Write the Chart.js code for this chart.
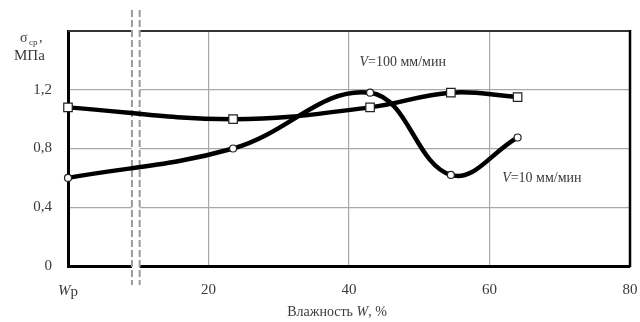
<!DOCTYPE html>
<html><head><meta charset="utf-8">
<script src="https://cdn.jsdelivr.net/npm/chart.js@4/dist/chart.umd.min.js"></script>
<style>html,body{margin:0;padding:0;background:#fff}#wrap{width:640px;height:322px}</style>
</head><body><div id="wrap"><canvas id="c" width="640" height="322"></canvas></div>
<script>
const moisture = [0, 23.5, 43, 54.5, 64];
const v100 = [1.08, 1.0, 1.08, 1.18, 1.15];
const v10 = [0.6, 0.8, 1.18, 0.62, 0.875];
const xTicks = [0, 20, 40, 60, 80];
const yTicks = [0, 0.4, 0.8, 1.2];
const breakAt = [9.1, 10.2];
const labelV100 = {x: 41.5, y: 1.39, text: ['V', '=100 мм/мин']};
const labelV10 = {x: 61.8, y: 0.6, text: ['V', '=10 мм/мин']};

const FONT = '"Liberation Serif", "DejaVu Serif", serif';
const TXT = '#3a3a3a';

function drawLabel(ctx, x, y, parts, size) {
  ctx.textBaseline = 'middle';
  ctx.textAlign = 'left';
  ctx.font = 'italic ' + size + 'px ' + FONT;
  ctx.fillText(parts[0], x, y);
  const w = ctx.measureText(parts[0]).width;
  ctx.font = size + 'px ' + FONT;
  ctx.fillText(parts[1], x + w, y);
}

const extras = {
  id: 'extras',
  beforeDatasetsDraw(chart) {
    const {ctx, chartArea: a, scales: {x, y}} = chart;
    ctx.save();
    ctx.strokeStyle = '#333';
    ctx.lineWidth = 2;
    ctx.beginPath(); ctx.moveTo(a.left, a.top); ctx.lineTo(a.right, a.top); ctx.stroke();
    ctx.strokeStyle = '#000';
    ctx.lineWidth = 2.5;
    ctx.beginPath(); ctx.moveTo(a.right, a.top - 1); ctx.lineTo(a.right, a.bottom + 1); ctx.stroke();
    const x1 = x.getPixelForValue(breakAt[0]);
    const x2 = x.getPixelForValue(breakAt[1]);
    ctx.fillStyle = '#fff';
    ctx.fillRect(x1, a.top - 21, x2 - x1, a.bottom - a.top + 40);
    ctx.strokeStyle = '#9a9a9a';
    ctx.lineWidth = 2;
    ctx.setLineDash([7, 3]);
    [x1, x2].forEach(px => {
      ctx.beginPath(); ctx.moveTo(px, a.top - 21); ctx.lineTo(px, a.bottom + 19); ctx.stroke();
    });
    ctx.setLineDash([]);
    ctx.restore();
  },
  afterDraw(chart) {
    const {ctx, chartArea: a, scales: {x, y}} = chart;
    ctx.save();
    ctx.fillStyle = TXT;
    ctx.textBaseline = 'alphabetic';
    ctx.textAlign = 'left';
    ctx.font = '14px ' + FONT;
    ctx.fillText('σ', 20, 42);
    ctx.font = '9px ' + FONT;
    ctx.fillText('ср', 29, 45);
    ctx.font = '14px ' + FONT;
    ctx.fillText(',', 39, 42);
    ctx.font = '15px ' + FONT;
    ctx.fillText('МПа', 14, 60);
    // Wp tick label
    const px0 = x.getPixelForValue(0);
    ctx.textBaseline = 'middle';
    ctx.font = 'italic 15px ' + FONT;
    const wW = ctx.measureText('W').width;
    ctx.font = '15px ' + FONT;
    const wP = ctx.measureText('р').width;
    let sx = px0 - (wW + wP) / 2;
    ctx.font = 'italic 15px ' + FONT;
    ctx.fillText('W', sx, 291);
    ctx.font = '15px ' + FONT;
    ctx.fillText('р', sx + wW, 292);
    // x axis title with italic W
    const t1 = 'Влажность ', t2 = 'W', t3 = ', %';
    ctx.font = '14px ' + FONT;
    const w1 = ctx.measureText(t1).width, w3 = ctx.measureText(t3).width;
    ctx.font = 'italic 14px ' + FONT;
    const w2 = ctx.measureText(t2).width;
    let tx = 337 - (w1 + w2 + w3) / 2;
    ctx.font = '14px ' + FONT;
    ctx.fillText(t1, tx, 312);
    ctx.font = 'italic 14px ' + FONT;
    ctx.fillText(t2, tx + w1, 312);
    ctx.font = '14px ' + FONT;
    ctx.fillText(t3, tx + w1 + w2, 312);
    drawLabel(ctx, x.getPixelForValue(labelV100.x), y.getPixelForValue(labelV100.y), labelV100.text, 14);
    drawLabel(ctx, x.getPixelForValue(labelV10.x), y.getPixelForValue(labelV10.y), labelV10.text, 14);
    ctx.restore();
  }
};

new Chart(document.getElementById('c'), {
  type: 'line',
  data: {
    datasets: [
      {
        label: 'V=100 мм/мин',
        data: moisture.map((w, i) => ({x: w, y: v100[i]})),
        borderColor: '#000', borderWidth: 4.5, tension: 0.4,
        pointStyle: 'rect', pointRadius: 6, pointBackgroundColor: '#fff',
        pointBorderColor: '#222', pointBorderWidth: 1.2, clip: false
      },
      {
        label: 'V=10 мм/мин',
        data: moisture.map((w, i) => ({x: w, y: v10[i]})),
        borderColor: '#000', borderWidth: 4.5, tension: 0.4,
        pointStyle: 'circle', pointRadius: 3.5, pointBackgroundColor: '#fff',
        pointBorderColor: '#222', pointBorderWidth: 1.2, clip: false
      }
    ]
  },
  options: {
    responsive: false,
    animation: false,
    devicePixelRatio: 1,
    layout: {padding: {left: 0, right: 0, top: 31, bottom: 0}},
    plugins: {legend: {display: false}, tooltip: {enabled: false}},
    scales: {
      x: {
        type: 'linear', min: 0, max: 80,
        afterBuildTicks: s => { s.ticks = xTicks.map(v => ({value: v})); },
        afterFit: s => { s.height = 56; s.paddingRight = 10; },
        ticks: {
          color: TXT, padding: 15, maxRotation: 0,
          font: {family: FONT, size: 15},
          callback: v => v === 0 ? '' : String(v)
        },
        grid: {color: '#a8a8a8', lineWidth: 1.2, drawTicks: false},
        border: {color: '#000', width: 3}
      },
      y: {
        min: 0, max: 1.6,
        afterBuildTicks: s => { s.ticks = yTicks.concat([1.6]).map(v => ({value: v})); },
        afterFit: s => { s.width = 68; },
        ticks: {
          color: TXT, padding: 16,
          font: {family: FONT, size: 15},
          callback: v => v >= 1.6 ? '' : (v === 0 ? '0' : v.toFixed(1).replace('.', ','))
        },
        grid: {color: c => c.tick && c.tick.value >= 1.6 ? 'rgba(0,0,0,0)' : '#a8a8a8', lineWidth: 1.2, drawTicks: false},
        border: {color: '#000', width: 3}
      }
    }
  },
  plugins: [extras]
});
</script>
</body></html>
